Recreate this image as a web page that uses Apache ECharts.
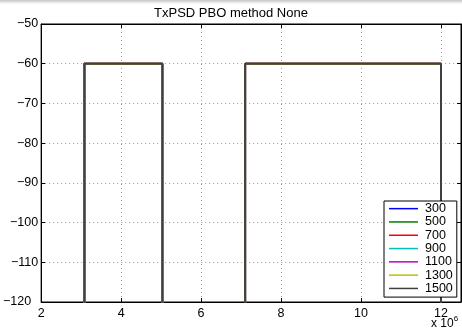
<!DOCTYPE html>
<html>
<head>
<meta charset="utf-8">
<script src="https://cdn.jsdelivr.net/npm/echarts@6/dist/echarts.min.js"></script>
<style>html,body{margin:0;padding:0;background:#fff}#c{width:462px;height:332px}</style>
</head>
<body>
<div id="c"></div>
<script>
const titleText = 'TxPSD PBO method None';
const seriesNames = ['300', '500', '700', '900', '1100', '1300', '1500'];
const seriesColors = ['#0000ff', '#008000', '#ff0000', '#00bfbf', '#bf00bf', '#bfbf00', '#404040'];
// frequency (Hz) and PSD (dBm/Hz) breakpoints, identical for every series
const psdX = [3.08e6, 3.08e6, 5.03e6, 5.03e6, 7.1e6, 7.1e6, 12e6, 12e6];
const psdY = [-130, -60, -60, -130, -130, -60, -60, -130];
const xTicks = [2, 4, 6, 8, 10, 12];
const yTicks = [-120, -110, -100, -90, -80, -70, -60, -50];

const font = 'Liberation Sans, Arial, Helvetica, sans-serif';
const chart = echarts.init(document.getElementById('c'));
const pts = psdX.map((x, i) => [x, psdY[i]]);
const series = seriesNames.map((n, i) => ({
  name: n, type: 'line', data: pts, symbol: 'none', clip: true,
  lineStyle: { color: seriesColors[i], width: 2 },
  itemStyle: { color: seriesColors[i] },
  animation: false, z: 3 + i
}));
const minus = v => String(v).replace('-', '\u2212');
chart.setOption({
  animation: false,
  graphic: [
    { type: 'rect', shape: { x: 0, y: 0, width: 462, height: 4 }, silent: true,
      style: { fill: new echarts.graphic.LinearGradient(0, 0, 0, 1, [{ offset: 0, color: '#c4c4c4' }, { offset: 1, color: '#ffffff' }]) } },
    { type: 'text', left: 431, top: 315, silent: true,
      style: { text: '{a|x 10}{b|6}', font: '12px ' + font, fill: '#000',
        rich: { a: { fontSize: 12, fontFamily: font, verticalAlign: 'bottom' }, b: { fontSize: 8, fontFamily: font, padding: [0, 0, 7, 0] } } } }
  ],
  title: { text: titleText, left: 'center', top: 7, padding: 0,
    textStyle: { fontSize: 13, fontWeight: 'normal', fontFamily: font, color: '#000' } },
  grid: { left: 41, right: 1, top: 24, bottom: 30, show: true, borderColor: '#000', borderWidth: 1, backgroundColor: 'transparent' },
  legend: {
    data: seriesNames, orient: 'vertical', left: 384, top: 201,
    icon: 'rect', itemWidth: 29, itemHeight: 1.5, itemGap: 0,
    padding: [1, 4, 2, 5],
    backgroundColor: '#fff', borderColor: '#000', borderWidth: 1, borderRadius: 0,
    textStyle: { fontSize: 12.5, fontFamily: font, color: '#000', lineHeight: 13.3, padding: [0, 0, 0, 2] },
    selectedMode: false, z: 20
  },
  xAxis: [{
    type: 'value', min: 2e6, max: 12.5e6, interval: 2e6, position: 'bottom',
    axisLine: { show: true, lineStyle: { color: '#000', width: 1 } },
    axisTick: { show: true, inside: true, length: 4, lineStyle: { color: '#000' } },
    axisLabel: { fontSize: 12.5, fontFamily: font, color: '#000', margin: 5,
      showMaxLabel: false,
      formatter: v => (xTicks.indexOf(Math.round(v / 1e6 * 1000) / 1000) >= 0 ? String(v / 1e6) : '') },
    splitLine: { show: true, lineStyle: { color: '#a0a0a0', type: [1, 3], width: 1 } }
  }, {
    type: 'value', min: 2e6, max: 12.5e6, interval: 2e6, position: 'top',
    axisLine: { show: true, lineStyle: { color: '#000' } },
    axisTick: { show: true, inside: true, length: 4, lineStyle: { color: '#000' } },
    axisLabel: { show: false }, splitLine: { show: false }
  }],
  yAxis: [{
    type: 'value', min: -120, max: -50, interval: 10, position: 'left',
    axisLine: { show: true, lineStyle: { color: '#000', width: 1 } },
    axisTick: { show: true, inside: true, length: 4, lineStyle: { color: '#000' } },
    axisLabel: { fontSize: 12.5, fontFamily: font, color: '#000', margin: 3,
      formatter: v => (v === yTicks[0] ? '{s|' + minus(v) + '}' : minus(v)),
      rich: { s: { fontSize: 12.5, fontFamily: font, padding: [0, 7, 0, 0] } } },
    splitLine: { show: true, lineStyle: { color: '#a0a0a0', type: [1, 3], width: 1 } }
  }, {
    type: 'value', min: -120, max: -50, interval: 10, position: 'right',
    axisLine: { show: true, lineStyle: { color: '#000' } },
    axisTick: { show: true, inside: true, length: 4, lineStyle: { color: '#000' } },
    axisLabel: { show: false }, splitLine: { show: false }
  }],
  series: series
});
</script>
</body>
</html>
